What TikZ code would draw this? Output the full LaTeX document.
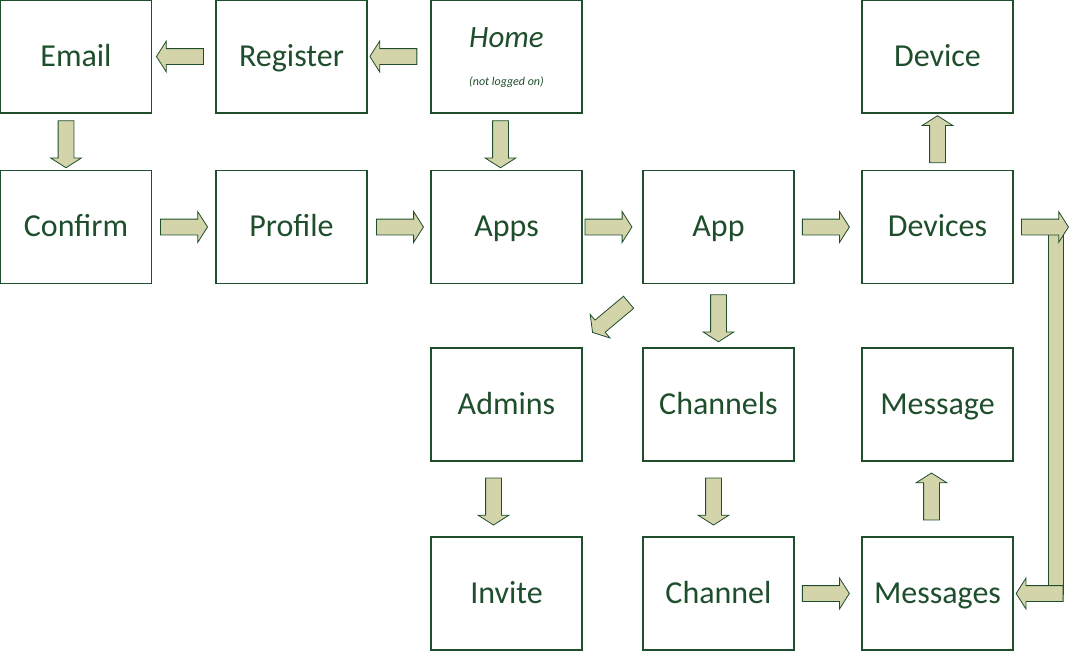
\documentclass[tikz,border=0pt]{standalone}
\usepackage{fontspec}
\setmainfont{Carlito}
\usetikzlibrary{shapes.arrows}
\definecolor{pagegreen}{RGB}{30,78,44}
\definecolor{arrowfill}{RGB}{212,212,170}

\begin{document}
\begin{tikzpicture}[
    x=1pt, y=-1pt,
    box/.style={rectangle, draw=pagegreen, line width=1.3pt, minimum width=151pt, minimum height=113pt, text height=22pt, text depth=3pt, text=pagegreen, font=\fontsize{32}{36}\selectfont},
    flow/.style={single arrow, draw=pagegreen, line width=0.8pt, fill=arrowfill, minimum height=47pt, minimum width=0pt, inner sep=7.5pt, single arrow head extend=7.5pt, single arrow tip angle=115, single arrow head indent=0pt, sloped, allow upside down, midway},
    bar/.style={draw=pagegreen, line width=0.8pt, double=arrowfill, double distance=13.5pt}
]
    \useasboundingbox (0,0) rectangle (1072,651);

    % Top row
    \node[box] (email) at (76,56.5) {Email};
    \node[box] (register) at (291.5,56.5) {Register};
    \node[box] (home) at (506.5,56.5) {};
    \node[anchor=base, text=pagegreen, font=\fontsize{31}{36}\selectfont\itshape] (hometitle) at (506.5,47) {Home};
    \node[anchor=base, text=pagegreen, font=\fontsize{12}{14}\selectfont\itshape] (homenote) at (506.5,85) {(not logged on)};
    \node[box] (device) at (937.5,56.5) {Device};

    % Second row
    \node[box] (confirm) at (76,227) {Confirm};
    \node[box] (profile) at (291.5,227) {Profile};
    \node[box] (apps) at (506.5,227) {Apps};
    \node[box] (app) at (718.5,227) {App};
    \node[box] (devices) at (937.5,227) {Devices};

    % Lower rows
    \node[box] (admins) at (506.5,404.5) {Admins};
    \node[box] (channels) at (718.5,404.5) {Channels};
    \node[box] (message) at (937.5,404.5) {Message};
    \node[box] (invite) at (506.5,593.5) {Invite};
    \node[box] (channel) at (718.5,593.5) {Channel};
    \node[box] (messages) at (937.5,593.5) {Messages};

    % Long bent arrow on the right
    \coordinate (turntop) at (1056,229);
    \coordinate (turnbot) at (1056,595);
    \draw[bar] (turntop) -- (turnbot);
    \path (devices.east) -- node[flow, pos=0.48] {} ++(60,0);
    \path ([xshift=57pt]messages.east) -- node[flow] {} (messages.east);

    % Arrows
    \path (register) -- node[flow, pos=0.52] {} (email);
    \path (home) -- node[flow, pos=0.55] {} (register);
    \path ([xshift=-10pt]email.south) -- node[flow] {} ([xshift=-10pt]confirm.north);
    \path ([xshift=-6pt]home.south) -- node[flow] {} ([xshift=-6pt]apps.north);
    \path (confirm) -- node[flow, pos=0.465] {} (profile);
    \path (profile) -- node[flow, pos=0.475] {} (apps);
    \path (apps) -- node[flow, pos=0.39] {} (app);
    \path (app) -- node[flow, pos=0.43] {} (devices);
    \path (devices) -- node[flow] {} (device);
    \path (app) -- node[flow] {} (admins);
    \path (app) -- node[flow] {} (channels);
    \path ([xshift=-13pt]admins.south) -- node[flow] {} ([xshift=-13pt]invite.north);
    \path ([xshift=-5pt]channels.south) -- node[flow] {} ([xshift=-5pt]channel.north);
    \path ([xshift=-6pt]messages.north) -- node[flow] {} ([xshift=-6pt]message.south);
    \path (channel) -- node[flow, pos=0.43] {} (messages);
\end{tikzpicture}
\end{document}
